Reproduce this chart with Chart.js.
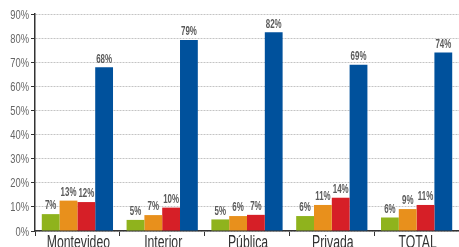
<!DOCTYPE html>
<html>
<head>
<meta charset="utf-8">
<script src="https://cdn.jsdelivr.net/npm/chart.js@4"></script>
<style>
  html, body { margin: 0; padding: 0; background: #fff; overflow: hidden; }
  #wrap { width: 459px; height: 247px; }
</style>
</head>
<body>
<div id="wrap"><canvas id="chart"></canvas></div>
<script>
const categories = ['Montevideo', 'Interior', 'Pública', 'Privada', 'TOTAL'];
const greenValues = [7.0, 4.6, 4.8, 6.2, 5.6];
const orangeValues = [12.6, 6.6, 6.2, 10.8, 9.1];
const redValues = [12.0, 9.7, 6.7, 13.8, 10.8];
const blueValues = [67.9, 79.2, 82.4, 68.9, 74.0];
const yTicks = [0, 10, 20, 30, 40, 50, 60, 70, 80, 90];

const FONT = "'Liberation Sans', Arial, sans-serif";

// squeezed text, the original uses a condensed face
function narrowText(ctx, txt, x, y, sx) {
    ctx.save();
    ctx.translate(x, y);
    ctx.scale(sx, 1);
    ctx.fillText(txt, 0, 0);
    ctx.restore();
}

const customLabels = {
    id: 'customLabels',
    afterDraw(chart) {
        const ctx = chart.ctx;
        const xs = chart.scales.x, ys = chart.scales.y;
        ctx.save();

        // y tick labels
        ctx.fillStyle = '#666';
        ctx.font = '13px ' + FONT;
        ctx.textAlign = 'right';
        ctx.textBaseline = 'middle';
        yTicks.forEach(v => {
            narrowText(ctx, v + '%', 29, ys.getPixelForValue(v) + 1, 0.72);
        });

        // category labels (cut by the bottom edge, like the original)
        ctx.fillStyle = '#333';
        ctx.font = '18px ' + FONT;
        ctx.textAlign = 'center';
        ctx.textBaseline = 'top';
        categories.forEach((c, i) => {
            narrowText(ctx, c, xs.getPixelForValue(i) + 1, 234, 0.68);
        });

        // value labels above bars
        ctx.fillStyle = '#5a5a5a';
        ctx.font = 'bold 12px ' + FONT;
        ctx.textBaseline = 'bottom';
        chart.data.datasets.forEach((ds, i) => {
            chart.getDatasetMeta(i).data.forEach((bar, j) => {
                narrowText(ctx, Math.round(ds.data[j]) + '%', bar.x, bar.y - 2, 0.66);
            });
        });
        ctx.restore();
    }
};

const ctx = document.getElementById('chart').getContext('2d');

new Chart(ctx, {
    type: 'bar',
    data: {
        labels: categories,
        datasets: [
            { data: greenValues, backgroundColor: '#8fb31d' },
            { data: orangeValues, backgroundColor: '#e8901c' },
            { data: redValues, backgroundColor: '#d61f27' },
            { data: blueValues, backgroundColor: '#00519c' }
        ]
    },
    options: {
        responsive: true,
        maintainAspectRatio: false,
        animation: false,
        layout: { padding: { top: 14, right: 0, left: 0, bottom: 0 } },
        plugins: {
            legend: { display: false },
            tooltip: { enabled: false }
        },
        datasets: {
            bar: { categoryPercentage: 0.84, barPercentage: 1.0 }
        },
        scales: {
            x: {
                afterFit(axis) { axis.height = 16; },
                grid: {
                    offset: true,
                    drawOnChartArea: false,
                    drawTicks: true,
                    tickLength: 5,
                    tickColor: '#333'
                },
                border: { color: '#333', width: 1.5 },
                ticks: { display: false, autoSkip: false }
            },
            y: {
                min: 0,
                max: 90,
                afterFit(axis) { axis.width = 35; },
                afterBuildTicks(axis) {
                    axis.ticks = yTicks.map(v => ({ value: v }));
                },
                grid: {
                    color: '#c4c4c4',
                    tickColor: '#333',
                    tickLength: 4
                },
                border: { color: '#333', width: 1.5, dash: [2, 1] },
                ticks: { display: false }
            }
        }
    },
    plugins: [customLabels]
});
</script>
</body>
</html>
